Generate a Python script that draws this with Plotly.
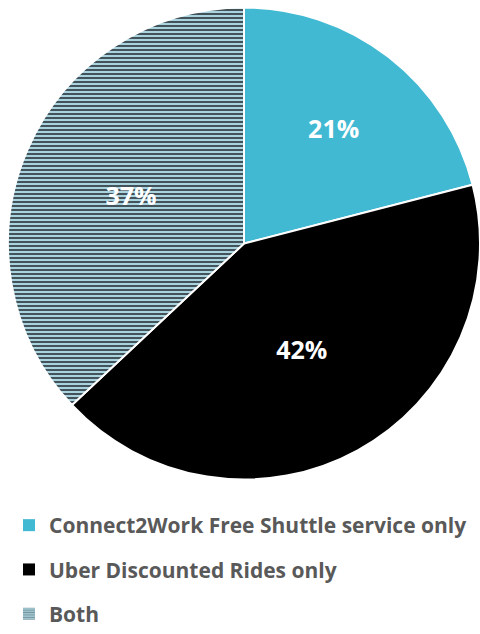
import plotly.graph_objects as go

labels = ["Connect2Work Free Shuttle service only", "Uber Discounted Rides only", "Both"]
values = [21, 42, 37]
text_labels = ["21%", "42%", "37%"]
colors = ["#41B9D3", "#000000", "#A9D3DE"]
patterns = ["", "", "-"]
stripe_color = "#44525A"

H = 634

fig = go.Figure()
fig.add_trace(go.Pie(
    labels=labels,
    values=values,
    text=text_labels,
    textinfo="text",
    textposition="inside",
    insidetextorientation="horizontal",
    sort=False,
    direction="clockwise",
    rotation=0,
    showlegend=False,
    marker=dict(
        colors=colors,
        line=dict(color="white", width=2),
        pattern=dict(shape=patterns, fgcolor=stripe_color, bgcolor=colors, size=4, solidity=0.5),
    ),
    textfont=dict(color="white", size=25, family="Open Sans", weight="bold"),
    domain=dict(x=[8/480, 1], y=[1-481/H, 1-6/H]),
    hoverinfo="skip",
))

# legend entries
for lab, col, pat in zip(labels, colors, patterns):
    fig.add_trace(go.Bar(
        x=[None], y=[None], name=lab, legendgroup=lab,
        marker=dict(color=col, line=dict(width=0),
                    pattern=dict(shape=pat, fgcolor=stripe_color, bgcolor=col, size=3, solidity=0.5)),
        hoverinfo="skip",
    ))

fig.update_layout(
    width=480, height=H,
    margin=dict(l=0, r=0, t=0, b=0),
    paper_bgcolor="white",
    plot_bgcolor="white",
    xaxis=dict(visible=False),
    yaxis=dict(visible=False),
    uniformtext=dict(minsize=25, mode="show"),
    showlegend=True,
    legend=dict(
        x=9/480, y=0, xanchor="left", yanchor="bottom",
        font=dict(size=21, family="Open Sans", color="#595959", weight="bold"),
        tracegroupgap=14,
        traceorder="grouped",
    ),
)

fig.write_html("out.html")
